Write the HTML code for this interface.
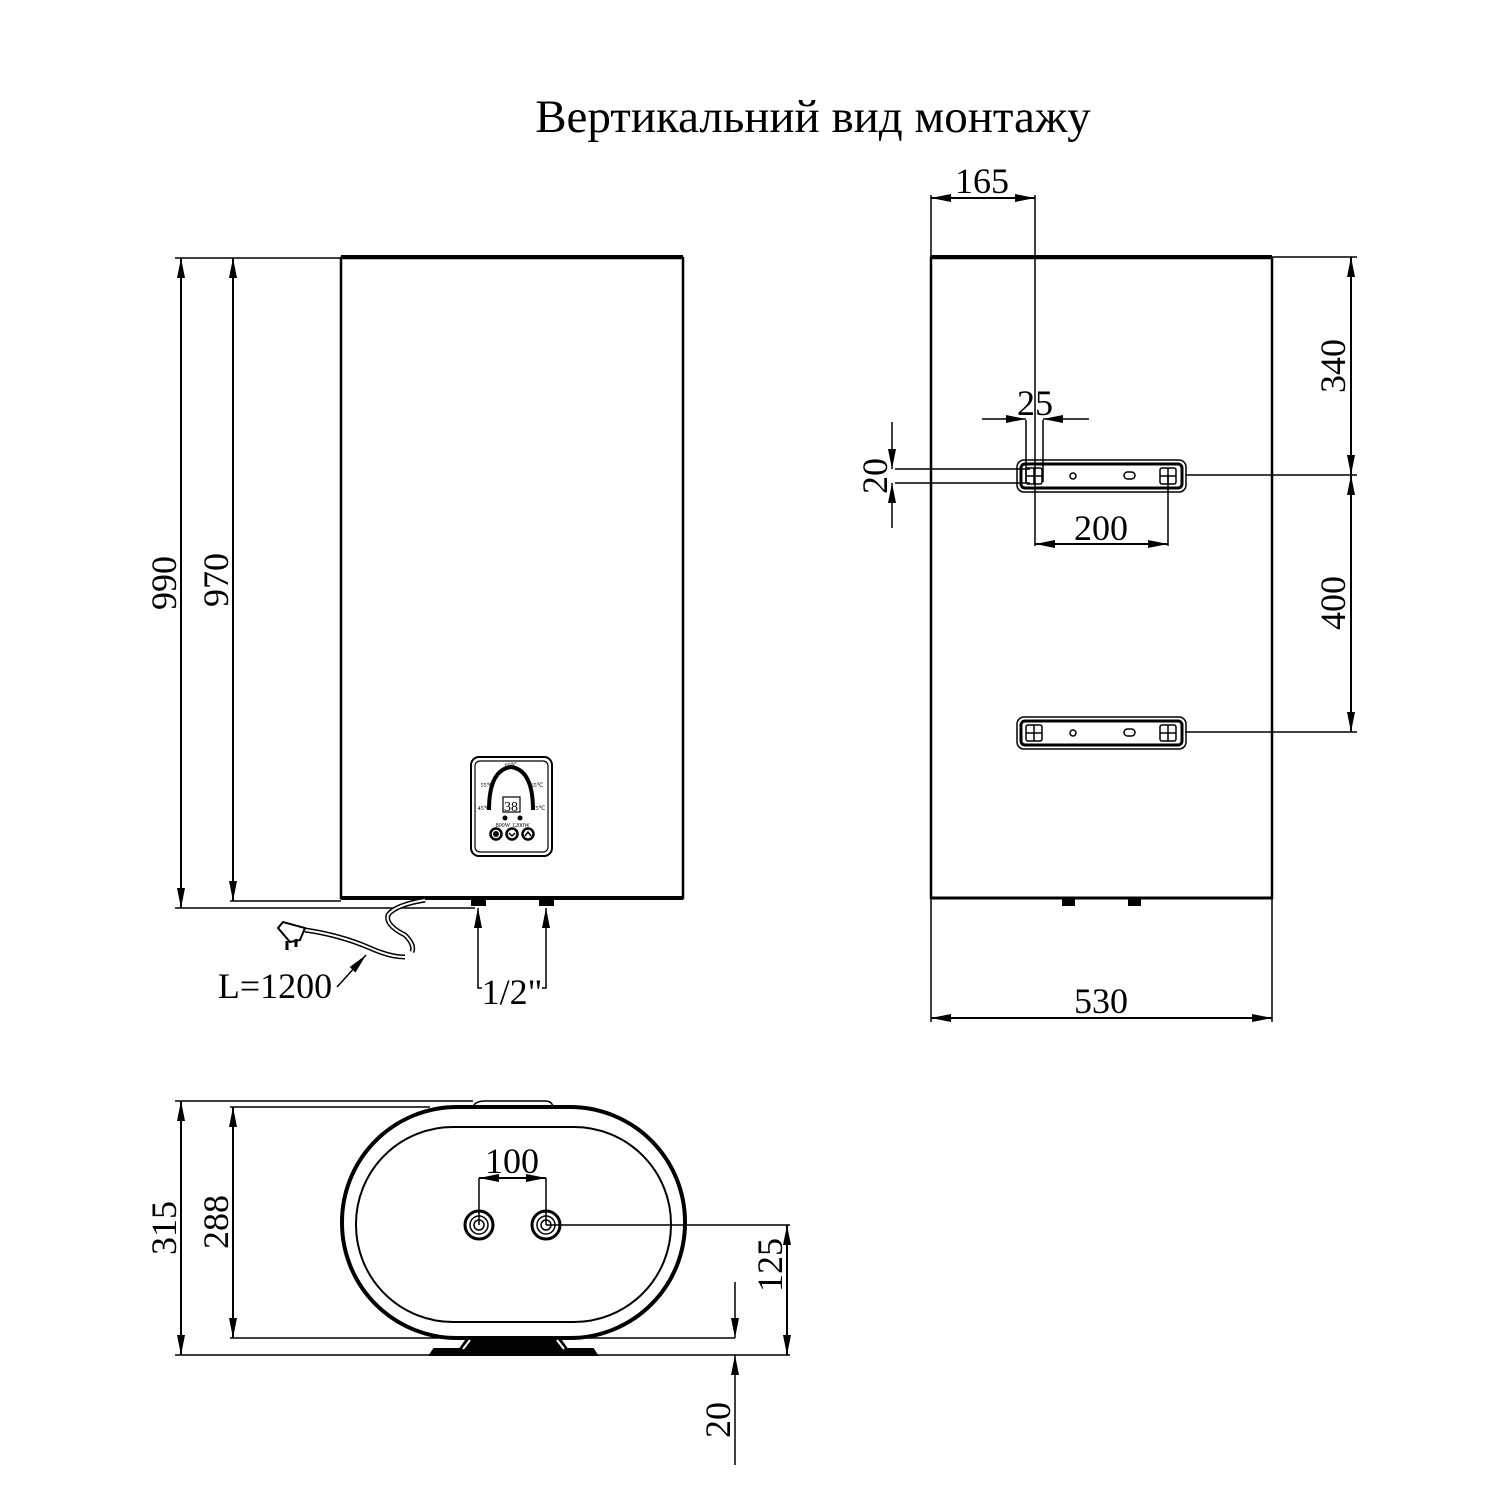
<!DOCTYPE html>
<html><head><meta charset="utf-8"><style>
html,body{margin:0;padding:0;background:#fff}
svg{display:block}
text{font-family:"Liberation Serif",serif;fill:#000}
</style></head><body>
<svg width="1500" height="1500" viewBox="0 0 1500 1500" xmlns="http://www.w3.org/2000/svg">
<defs>
<marker id="a" viewBox="0 0 20 8" refX="20" refY="4" markerWidth="20" markerHeight="8" markerUnits="userSpaceOnUse" orient="auto-start-reverse"><path d="M0,0 L20,4 L0,8 Z" fill="#000"/></marker>
</defs>
<text x="813" y="132" font-size="47" text-anchor="middle">Вертикальний вид монтажу</text>

<g stroke="#000" fill="none" stroke-width="2">
<!-- FRONT VIEW -->
<rect x="341" y="258" width="342" height="640" stroke-width="2.5"/>
<line x1="341" y1="257" x2="683" y2="257" stroke-width="4"/>
<line x1="341" y1="898" x2="683" y2="898" stroke-width="4"/>
<line x1="175" y1="258" x2="341" y2="258" stroke-width="1.5"/>
<line x1="175" y1="908" x2="475" y2="908" stroke-width="1.5"/>
<line x1="230" y1="901" x2="341" y2="901" stroke-width="1.5"/>
<line x1="181" y1="258" x2="181" y2="908" marker-start="url(#a)" marker-end="url(#a)"/>
<line x1="233" y1="258" x2="233" y2="901" marker-start="url(#a)" marker-end="url(#a)"/>
<!-- control panel -->
<rect x="471" y="757" width="81" height="99" rx="8"/>
<rect x="475" y="761" width="73" height="91" rx="5" stroke-width="1.2"/>
<path d="M489,810 Q489,770 511,767 Q533,770 533,810" stroke-width="4"/>
<rect x="503" y="797" width="17" height="15" stroke-width="1.2"/>
<circle cx="505" cy="818" r="1.5" fill="#000"/><circle cx="520" cy="818" r="1.5" fill="#000"/>
<circle cx="496" cy="834" r="5.5" stroke-width="2.5"/><circle cx="512" cy="834" r="5.5" stroke-width="2.5"/><circle cx="528" cy="834" r="5.5" stroke-width="2.5"/>
<circle cx="496" cy="834" r="2" fill="#000"/><path d="M509,833 L512,836 L515,833" stroke-width="1.5"/><path d="M525,836 L528,832 L531,836" stroke-width="1.5"/>
<!-- pipes -->
<rect x="472" y="899" width="13" height="6" fill="#000"/>
<rect x="540" y="899" width="13" height="6" fill="#000"/>
<line x1="478" y1="985" x2="478" y2="908" marker-end="url(#a)" stroke-width="1.5"/>
<line x1="546" y1="985" x2="546" y2="908" marker-end="url(#a)" stroke-width="1.5"/>
<path d="M478,985 V988 H482 M546,985 V988 H542" stroke-width="1.5"/>
<!-- cord -->
<path d="M425,900 Q395,905 388,915 Q385,925 405,935 Q415,945 412,952" stroke-width="5"/>
<path d="M425,900 Q395,905 388,915 Q385,925 405,935 Q415,945 412,952" stroke="#fff" stroke-width="2"/>
<path d="M305,930 Q340,935 370,948 Q390,957 405,957" stroke-width="5"/>
<path d="M305,930 Q340,935 370,948 Q390,957 405,957" stroke="#fff" stroke-width="2"/>
<path d="M278,928 L283,922 L305,928 L300,940 L290,942 Z" fill="#fff" stroke-width="2"/>
<line x1="287" y1="941" x2="287" y2="950" stroke-width="3"/><line x1="296" y1="939" x2="296" y2="947" stroke-width="3"/>
<line x1="337" y1="987" x2="366" y2="955" marker-end="url(#a)" stroke-width="1.5"/>

<!-- SIDE VIEW -->
<rect x="931" y="258" width="341" height="640" stroke-width="2.5"/>
<line x1="931" y1="257" x2="1272" y2="257" stroke-width="4"/>
<line x1="931" y1="898" x2="1272" y2="898" stroke-width="3"/>
<rect x="1063" y="899" width="11" height="6" fill="#000"/>
<rect x="1129" y="899" width="11" height="6" fill="#000"/>
<line x1="931" y1="195" x2="931" y2="257" stroke-width="1.5"/>
<line x1="1035" y1="195" x2="1035" y2="475" stroke-width="1.5"/>
<line x1="931" y1="198" x2="1035" y2="198" marker-start="url(#a)" marker-end="url(#a)"/>
<!-- 25 -->
<line x1="1026" y1="420" x2="1026" y2="482" stroke-width="1.5"/>
<line x1="1043" y1="420" x2="1043" y2="482" stroke-width="1.5"/>
<line x1="982" y1="419" x2="1026" y2="419" marker-end="url(#a)" stroke-width="1.5"/>
<line x1="1089" y1="419" x2="1043" y2="419" marker-end="url(#a)" stroke-width="1.5"/>
<!-- brackets -->
<g id="br">
<rect x="1017" y="460" width="169" height="32" rx="7" stroke-width="1.5"/>
<rect x="1021" y="464" width="161" height="24" rx="4" stroke-width="3"/>
<rect x="1026" y="468" width="16" height="16" rx="2" stroke-width="1.5"/>
<line x1="1026" y1="476" x2="1042" y2="476" stroke-width="1.5"/><line x1="1034" y1="468" x2="1034" y2="484" stroke-width="1.5"/>
<rect x="1160" y="468" width="16" height="16" rx="2" stroke-width="1.5"/>
<line x1="1160" y1="476" x2="1176" y2="476" stroke-width="1.5"/><line x1="1168" y1="468" x2="1168" y2="484" stroke-width="1.5"/>
<circle cx="1073" cy="476" r="3" stroke-width="1.5"/>
<rect x="1124" y="472" width="11" height="7" rx="3.5" stroke-width="1.5"/>
</g>
<use href="#br" y="257"/>
<!-- 20 -->
<line x1="895" y1="469" x2="1030" y2="469" stroke-width="1.5"/>
<line x1="895" y1="483" x2="1030" y2="483" stroke-width="1.5"/>
<line x1="892" y1="422" x2="892" y2="469" marker-end="url(#a)" stroke-width="1.5"/>
<line x1="892" y1="528" x2="892" y2="483" marker-end="url(#a)" stroke-width="1.5"/>
<!-- 200 -->
<line x1="1035" y1="476" x2="1035" y2="546" stroke-width="1.5"/>
<line x1="1168" y1="476" x2="1168" y2="546" stroke-width="1.5"/>
<line x1="1035" y1="544" x2="1168" y2="544" marker-start="url(#a)" marker-end="url(#a)"/>
<!-- 340/400 -->
<line x1="1272" y1="257" x2="1357" y2="257" stroke-width="1.5"/>
<line x1="1185" y1="475" x2="1357" y2="475" stroke-width="1.5"/>
<line x1="1185" y1="732" x2="1357" y2="732" stroke-width="1.5"/>
<line x1="1351" y1="257" x2="1351" y2="475" marker-start="url(#a)" marker-end="url(#a)"/>
<line x1="1351" y1="475" x2="1351" y2="732" marker-start="url(#a)" marker-end="url(#a)"/>
<!-- 530 -->
<line x1="931" y1="898" x2="931" y2="1022" stroke-width="1.5"/>
<line x1="1272" y1="898" x2="1272" y2="1022" stroke-width="1.5"/>
<line x1="931" y1="1018" x2="1272" y2="1018" marker-start="url(#a)" marker-end="url(#a)"/>

<!-- BOTTOM VIEW -->
<path d="M473,1107 Q475,1101 485,1101 H545 Q552,1101 553,1107" stroke-width="1.5"/>
<rect x="342" y="1107" width="343" height="231" rx="115" stroke-width="4"/>
<rect x="356" y="1127" width="315" height="195" rx="97" stroke-width="2"/>
<path d="M430,1355 L434,1349 H460 L467,1339 H560 L567,1349 H593 L597,1355 Z" fill="#000"/>
<path d="M470,1340 L463,1349 M557,1340 L564,1349" stroke="#fff" stroke-width="2"/>
<g stroke-width="1.5">
<circle cx="479" cy="1225" r="14" stroke-width="3"/><circle cx="479" cy="1225" r="9"/><circle cx="479" cy="1225" r="5"/>
<circle cx="546" cy="1225" r="14" stroke-width="3"/><circle cx="546" cy="1225" r="9"/><circle cx="546" cy="1225" r="5"/>
<line x1="479" y1="1178" x2="479" y2="1225"/><line x1="546" y1="1178" x2="546" y2="1225"/>
<line x1="546" y1="1225" x2="790" y2="1225"/>
<line x1="175" y1="1101" x2="473" y2="1101"/>
<line x1="230" y1="1107" x2="430" y2="1107"/>
<line x1="230" y1="1338" x2="735" y2="1338"/>
<line x1="175" y1="1355" x2="790" y2="1355"/>
<line x1="735" y1="1282" x2="735" y2="1338" marker-end="url(#a)"/>
<line x1="735" y1="1465" x2="735" y2="1355" marker-end="url(#a)"/>
</g>
<line x1="479" y1="1178" x2="546" y2="1178" marker-start="url(#a)" marker-end="url(#a)"/>
<line x1="181" y1="1101" x2="181" y2="1355" marker-start="url(#a)" marker-end="url(#a)"/>
<line x1="233" y1="1107" x2="233" y2="1338" marker-start="url(#a)" marker-end="url(#a)"/>
<line x1="787" y1="1225" x2="787" y2="1355" marker-start="url(#a)" marker-end="url(#a)"/>
</g>

<g font-size="36">
<text transform="translate(176,583) rotate(-90)" text-anchor="middle">990</text>
<text transform="translate(228,580) rotate(-90)" text-anchor="middle">970</text>
<text x="275" y="998" text-anchor="middle">L=1200</text>
<text x="512" y="1004" text-anchor="middle">1/2"</text>
<text x="982" y="193" text-anchor="middle">165</text>
<text x="1035" y="415" text-anchor="middle">25</text>
<text transform="translate(887,476) rotate(-90)" text-anchor="middle">20</text>
<text x="1101" y="540" text-anchor="middle">200</text>
<text transform="translate(1345,366) rotate(-90)" text-anchor="middle">340</text>
<text transform="translate(1345,603) rotate(-90)" text-anchor="middle">400</text>
<text x="1101" y="1013" text-anchor="middle">530</text>
<text x="512" y="1173" text-anchor="middle">100</text>
<text transform="translate(176,1228) rotate(-90)" text-anchor="middle">315</text>
<text transform="translate(228,1222) rotate(-90)" text-anchor="middle">288</text>
<text transform="translate(782,1265) rotate(-90)" text-anchor="middle">125</text>
<text transform="translate(730,1420) rotate(-90)" text-anchor="middle">20</text>
</g>
<g font-size="6" text-anchor="middle">
<text x="511" y="767">60℃</text><text x="487" y="787">55℃</text><text x="537" y="787">65℃</text>
<text x="484" y="810">45℃</text><text x="539" y="810">75℃</text>
<text x="503" y="827">800W</text><text x="521" y="827">1200W</text>
</g>
<text x="511" y="811" font-size="14" text-anchor="middle">38</text>
</svg>
</body></html>
